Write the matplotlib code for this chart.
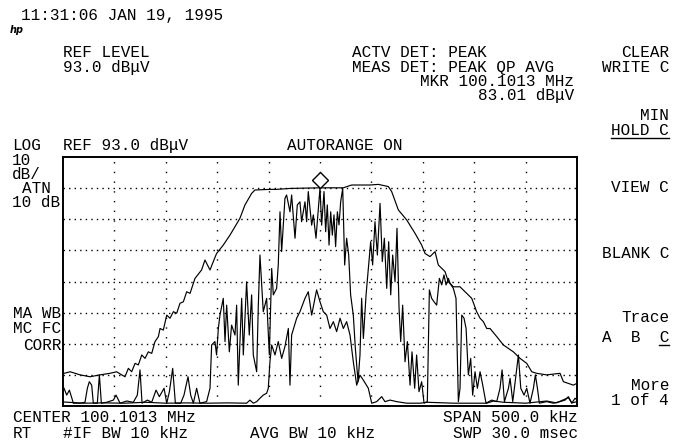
import numpy as np
import matplotlib
matplotlib.use('Agg')
import matplotlib.pyplot as plt
from matplotlib.transforms import offset_copy
from matplotlib.lines import Line2D

# frequency offsets from center (kHz) and levels (dBuV)
center_mhz = 100.1013
span_khz = 500.0
ref_level = 93.0
db_per_div = 10.0
mkr_khz = 0.0
mkr_dbuv = 83.01

# trace A - max hold envelope
maxhold_khz = [-249, -243, -233.4, -223.7, -214, -204.3, -197.8, -192.9, -189.7, -186.4,
               -183.2, -179.9, -176.7, -173.4, -170.2, -167.0, -163.7, -160.5, -157.2, -155.6,
               -152.4, -149.1, -145.9, -142.6, -139.4, -136.2, -132.9, -129.7, -126.4, -123.2,
               -121.6, -115.2, -111.9, -107.0, -103.8, -100.6, -94.1, -87.6, -82.7, -77.9,
               -73.0, -66.5, -63.3, -48.7, -42.2, -29.2, 0.0, 22.7, 30.8, 48.6,
               56.8, 66.5, 69.7, 76.2, 84.3, 92.4, 98.9, 102.2, 107.0, 111.9,
               115.1, 121.6, 124.9, 129.7, 136.2, 141.1, 147.6, 152.4, 155.7, 158.9,
               162.2, 165.4, 171.9, 178.4, 188.1, 194.6, 201.1, 206.0, 210.8, 220.5,
               233.5, 236.8, 246.5, 250.0]
maxhold_dbuv = [23.5, 24.0, 23.0, 22.4, 23.0, 23.5, 24.0, 23.0, 22.4, 25.1,
                24.0, 26.7, 26.2, 29.4, 28.3, 30.4, 29.9, 33.7, 35.3, 37.9,
                37.4, 42.2, 41.2, 43.3, 42.8, 46.0, 46.5, 49.7, 49.2, 52.4,
                54.0, 56.7, 59.9, 56.7, 59.4, 62.0, 64.7, 67.9, 70.6, 73.3,
                77.6, 81.3, 82.4, 82.6, 82.6, 82.9, 83.1, 83.1, 84.0, 84.0,
                84.2, 83.5, 81.9, 76.0, 72.8, 68.5, 64.7, 62.0, 61.0, 62.6,
                58.3, 56.2, 52.9, 51.3, 51.3, 49.7, 47.6, 43.3, 41.2, 40.1,
                37.9, 37.9, 35.3, 32.6, 30.4, 28.3, 26.7, 24.0, 23.5, 23.0,
                23.5, 20.8, 19.7, 20.3]

# trace B - min hold
minhold_khz = [-250, -230, -210, -190, -170, -150, -130, -110.3, -90, -71.4,
               -68.1, -64.9, -61.6, -58.4, -55.2, -51.9, -50.3, -48.7, -47.0, -43.8,
               -40.6, -37.3, -34.1, -30.8, -29.2, -27.6, -22.7, -19.5, -14.6, -11.4,
               -8.1, -3.3, 0.0, 3.2, 6.5, 9.7, 13.0, 16.2, 19.5, 22.7,
               25.9, 29.2, 32.4, 35.7, 38.9, 42.2, 47.0, 50.3, 55.1, 60.0,
               63.2, 68.1, 74.6, 84.3, 97.3, 103.8, 130, 162.2, 168.7, 178.4,
               200, 220.5, 230, 241.6, 245, 250]
minhold_dbuv = [14.3, 13.9, 14.0, 13.9, 14.2, 13.9, 14.0, 13.9, 14.0, 13.9,
                14.9, 13.9, 14.4, 15.5, 16.5, 17.1, 18.7, 27.2, 32.6, 29.4,
                33.7, 28.3, 32.1, 37.9, 19.7, 35.8, 41.2, 43.3, 47.6, 49.7,
                42.2, 50.3, 46.5, 43.3, 42.2, 37.9, 40.1, 36.9, 41.2, 37.9,
                40.1, 35.8, 27.2, 19.7, 22.9, 21.3, 18.7, 13.9, 14.4, 16.0,
                14.4, 14.9, 14.4, 13.9, 13.9, 14.2, 13.9, 13.9, 14.6, 14.2,
                13.9, 14.6, 14.0, 15.7, 14.0, 14.4]

# trace C - clear write (active, marker sits on it)
clrw_khz = [-249.0, -246.4, -243.8, -239.9, -233.4, -228.6, -226.3, -224.4, -222.1, -220.5,
            -216.6, -214.6, -212.7, -207.5, -201.0, -198.4, -194.5, -188.0, -181.6, -177.7,
            -175.1, -173.1, -167.9, -163.7, -159.5, -156.3, -151.7, -149.1, -146.5, -143.3,
            -140.7, -135.5, -132.3, -128.4, -125.8, -123.2, -120.0, -116.8, -110.3, -107.0,
            -105.4, -102.2, -100.6, -98.9, -97.3, -94.1, -92.4, -90.8, -88.2, -86.0,
            -82.7, -81.1, -79.5, -76.2, -74.6, -71.4, -68.8, -66.5, -64.9, -61.6,
            -60.0, -58.4, -55.2, -51.9, -49.3, -47.0, -45.4, -42.2, -40.6, -38.9,
            -37.3, -34.1, -32.5, -29.2, -27.6, -24.3, -22.1, -19.5, -17.9, -14.6,
            -13.0, -11.4, -8.1, -6.5, -3.9, 0.0, 1.6, 3.9, 5.5, 7.1,
            8.8, 10.4, 12.0, 13.6, 15.2, 16.9, 18.5, 20.1, 22.1, 24.0,
            25.9, 27.9, 29.8, 32.4, 34.4, 37.0, 38.9, 40.5, 42.2, 44.8,
            47.3, 49.3, 51.2, 53.5, 55.8, 58.4, 60.6, 62.6, 64.9, 66.8,
            68.8, 70.7, 73.0, 74.9, 76.9, 78.5, 80.4, 82.7, 85.0, 87.6,
            89.5, 92.1, 94.0, 96.3, 98.9, 101.2, 104.4, 106.4, 108.6, 110.9,
            113.5, 116.1, 118.4, 120.6, 122.6, 124.9, 126.5, 129.7, 132.3, 134.6,
            136.2, 137.9, 140.1, 142.1, 144.3, 146.6, 148.5, 150.8, 153.1, 155.7,
            158.3, 161.5, 167.0, 171.9, 175.1, 177.1, 179.4, 183.3, 184.9, 187.5,
            190.7, 193.0, 195.3, 198.5, 201.1, 204.3, 207.6, 209.5, 211.5, 213.4,
            220.5, 227.0, 233.5, 238.4, 241.6, 244.9, 248.1, 250.0]
clrw_dbuv = [18.7, 16.5, 18.1, 13.9, 13.9, 14.2, 18.7, 20.8, 19.7, 13.9,
             13.9, 23.0, 13.9, 14.2, 14.9, 16.5, 13.9, 14.6, 14.2, 16.5,
             24.6, 13.9, 14.9, 14.2, 18.1, 16.0, 18.7, 13.9, 17.6, 25.1,
             13.9, 13.9, 16.5, 22.4, 16.5, 13.9, 18.7, 13.9, 14.4, 18.7,
             32.6, 33.7, 29.4, 37.9, 42.2, 47.6, 33.7, 45.4, 30.4, 39.0,
             35.8, 45.4, 19.7, 47.6, 29.4, 52.9, 35.8, 48.7, 29.4, 24.0,
             45.4, 61.5, 43.3, 47.6, 29.4, 57.2, 48.7, 50.8, 58.3, 75.4,
             62.6, 79.7, 80.8, 75.4, 80.8, 66.9, 77.6, 78.6, 72.2, 78.6,
             72.2, 81.9, 71.1, 74.4, 66.9, 83.0, 71.1, 81.9, 69.0, 77.6,
             64.7, 75.4, 67.9, 74.4, 64.2, 75.4, 71.2, 78.6, 82.9, 58.3,
             66.9, 61.5, 48.7, 42.2, 31.5, 20.8, 29.4, 47.6, 34.7, 48.7,
             58.3, 65.8, 58.3, 72.2, 61.5, 78.1, 59.4, 66.9, 50.8, 65.8,
             48.7, 61.5, 52.9, 70.1, 44.4, 33.7, 45.4, 27.2, 33.7, 19.7,
             30.4, 18.7, 29.4, 17.6, 20.8, 13.9, 14.4, 50.3, 47.6, 46.5,
             45.4, 54.0, 51.9, 55.1, 51.9, 54.0, 52.4, 50.8, 47.6, 14.4,
             18.7, 42.2, 41.2, 37.9, 23.0, 28.3, 16.5, 24.0, 18.7, 24.0,
             19.7, 13.9, 14.9, 14.4, 18.7, 24.6, 14.4, 18.7, 21.9, 14.4,
             23.0, 29.4, 18.7, 16.5, 18.7, 13.9, 18.7, 23.0, 18.7, 13.9,
             14.4, 13.9, 14.4, 14.9, 16.0, 13.9, 15.5, 14.9]

# annotation text: (string, x px, baseline y px, alignment)
screen_text = [
    ('11:31:06 JAN 19, 1995', 21, 20, 'left'),
    ('REF LEVEL', 63, 57, 'left'),
    ('93.0 dB\u03bcV', 63, 72, 'left'),
    ('ACTV DET: PEAK', 352, 57, 'left'),
    ('MEAS DET: PEAK QP AVG', 352, 72, 'left'),
    ('MKR 100.1013 MHz', 574, 86, 'right'),
    ('83.01 dB\u03bcV', 574, 100, 'right'),
    ('CLEAR', 669, 57, 'right'),
    ('WRITE C', 669, 72, 'right'),
    ('MIN', 669, 120, 'right'),
    ('HOLD C', 669, 135, 'right'),
    ('VIEW C', 669, 192, 'right'),
    ('BLANK C', 669, 258, 'right'),
    ('Trace', 669, 322, 'right'),
    ('A  B  C', 669, 342, 'right'),
    ('More', 669, 390, 'right'),
    ('1 of 4', 669, 405, 'right'),
    ('LOG', 12, 150, 'left'),
    ('REF 93.0 dB\u03bcV', 63, 150, 'left'),
    ('AUTORANGE ON', 287, 150, 'left'),
    ('10', 12, 165, 'left'),
    ('dB/', 12, 179, 'left'),
    ('ATN', 22, 193, 'left'),
    ('10 dB', 12, 207, 'left'),
    ('MA WB', 13, 318, 'left'),
    ('MC FC', 13, 333, 'left'),
    ('CORR', 23, 350, 'left'),
    ('CENTER 100.1013 MHz', 13, 422, 'left'),
    ('SPAN 500.0 kHz', 578, 422, 'right'),
    ('RT', 13, 438, 'left'),
    ('#IF BW 10 kHz', 63, 438, 'left'),
    ('AVG BW 10 kHz', 250, 438, 'left'),
    ('SWP 30.0 msec', 578, 438, 'right'),
]
underlined = ['HOLD C', 'A  B  C']

W, H = 674, 446
fig = plt.figure(figsize=(W / 100.0, H / 100.0), dpi=100)
fig.patch.set_facecolor('white')
ax = fig.add_axes([63.0 / W, 1 - 406.0 / H, 514.0 / W, 249.0 / H])

ax.plot(maxhold_khz, maxhold_dbuv, color='black', lw=0.85)
ax.plot(minhold_khz, minhold_dbuv, color='black', lw=0.85)
ax.plot(clrw_khz, clrw_dbuv, color='black', lw=0.85)

# marker diamond drawn just above the marked point
mk_trans = offset_copy(ax.transData, fig=fig, x=0, y=6, units='points')
ax.plot([mkr_khz], [mkr_dbuv], marker='D', ms=8, mfc='white', mec='black', mew=1.0,
        transform=mk_trans, clip_on=False)

ax.set_xlim(-span_khz / 2, span_khz / 2)
ax.set_ylim(ref_level - 8 * db_per_div, ref_level)
ax.set_xticks(np.arange(-span_khz / 2 + 50, span_khz / 2, 50))
ax.set_yticks(np.arange(ref_level - 7 * db_per_div, ref_level, db_per_div))
ax.tick_params(length=0, labelbottom=False, labelleft=False)
ax.xaxis.grid(True, color='black', lw=1.0, linestyle=(0, (1, 6)))
ax.yaxis.grid(True, color='black', lw=1.0, linestyle=(0, (1, 3)))
for sp in ax.spines.values():
    sp.set_linewidth(1.4)

txt = {}
for s, x, y, ha in screen_text:
    txt[s] = fig.text(x / W, 1 - y / H, s, ha=ha, va='baseline',
                      family='Liberation Mono', fontsize=11.5, color='black')

# little hp logo under the time stamp
fig.text(10.0 / W, 1 - 33.0 / H, 'hp', family='DejaVu Sans', style='italic',
         fontweight='bold', fontsize=7)

# underline the active softkey selections
fig.canvas.draw()
for s in underlined:
    bb = txt[s].get_window_extent()
    x1 = bb.x1
    x0 = bb.x0 if s == 'HOLD C' else bb.x1 - bb.width / len(s)
    yb = [y for t, _, y, _ in screen_text if t == s][0] + 3
    fig.add_artist(Line2D([x0 / W, x1 / W], [1 - yb / H, 1 - yb / H],
                          color='black', lw=1.0, transform=fig.transFigure))

fig.savefig('out.png', dpi=100, facecolor='white')
